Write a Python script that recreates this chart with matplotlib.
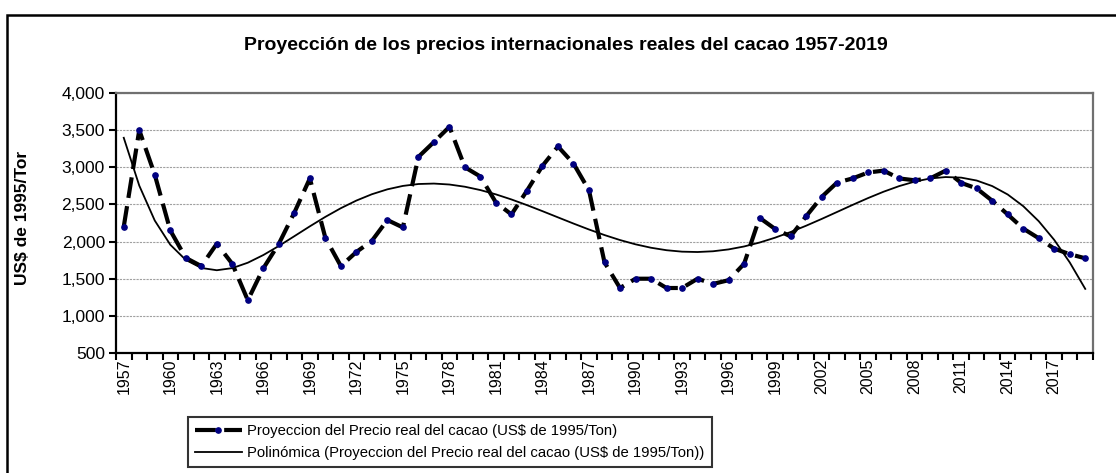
import numpy as np
import matplotlib
matplotlib.use("Agg")
import matplotlib.pyplot as plt
from matplotlib.patches import Rectangle

plt.rcParams['font.family'] = ['Liberation Sans', 'DejaVu Sans']

years = list(range(1957, 2020))
precio = [2200, 3500, 2900, 2150, 1780, 1670, 1970, 1700, 1210, 1640,
          1970, 2390, 2850, 2050, 1670, 1860, 2010, 2290, 2190, 3140,
          3340, 3545, 3000, 2875, 2525, 2365, 2685, 3020, 3280, 3050,
          2690, 1720, 1375, 1500, 1500, 1375, 1375, 1500, 1430, 1480,
          1700, 2320, 2170, 2070, 2340, 2600, 2795, 2850, 2930, 2955,
          2850, 2825, 2850, 2955, 2790, 2715, 2550, 2365, 2175, 2045,
          1905, 1830, 1775]
tick_years = list(range(1957, 2018, 3))

W, H = 1116, 473
fig = plt.figure(figsize=(W / 100, H / 100), dpi=100)
ax = fig.add_axes([116 / W, 1 - 353 / H, (1093 - 116) / W, (353 - 93) / H])

x = np.arange(len(years))
# linea de tendencia polinomica (como en Excel)
coef = np.polyfit(x + 1, precio, 6)
trend = np.polyval(coef, x + 1)

ax.plot(x, precio, color='black', lw=3, linestyle=(0, (5, 2)),
        marker='o', markersize=3.8, markerfacecolor='#000080', markeredgecolor='#000080',
        label='Proyeccion del Precio real del cacao (US$ de 1995/Ton)', zorder=3)
ax.plot(x, trend, color='black', lw=1.3,
        label='Polinómica (Proyeccion del Precio real del cacao (US$ de 1995/Ton))', zorder=2)

ax.set_xlim(-0.5, len(years) - 0.5)
ax.set_ylim(500, 4000)
ax.set_yticks(range(500, 4001, 500))
ax.set_yticklabels([f"{v:,}" for v in range(500, 4001, 500)], fontsize=12.5)
ax.yaxis.grid(True, color='#a0a0a0', linestyle=(0, (2, 1)), lw=0.8)
ax.set_axisbelow(True)

ax.set_xticks([years.index(y) for y in tick_years])
ax.set_xticklabels([str(y) for y in tick_years], rotation=90, fontsize=11.5)
ax.set_xticks(np.arange(-0.5, len(years)), minor=True)
ax.tick_params(axis='x', which='major', length=0, pad=4)
ax.tick_params(axis='x', which='minor', length=5, width=1.5, direction='out')
ax.tick_params(axis='y', length=5, width=1.5, direction='out', pad=3)

for s in ['left', 'bottom']:
    ax.spines[s].set_linewidth(1.6)
    ax.spines[s].set_color('black')
for s in ['top', 'right']:
    ax.spines[s].set_linewidth(1.6)
    ax.spines[s].set_color('#707070')

ax.set_ylabel('US$ de 1995/Tor', fontsize=12.5, fontweight='bold')
ax.yaxis.set_label_coords((30 - 116) / (1093 - 116), 0.52)

fig.text(566 / W, 1 - 46 / H, 'Proyección de los precios internacionales reales del cacao 1957-2019',
         ha='center', va='center', fontsize=14, fontweight='bold')

leg = fig.legend(loc='upper left', bbox_to_anchor=(188 / W, 1 - 417 / H), fontsize=10.7,
                 frameon=True, fancybox=False, borderaxespad=0, handlelength=3.1,
                 handletextpad=0.4, borderpad=0.5, labelspacing=0.5, numpoints=1)
leg.get_frame().set_edgecolor('black')
leg.get_frame().set_linewidth(1.5)

fig.add_artist(Rectangle((7 / W, -0.1), 1.2, 1.1 - 15 / H,
                         transform=fig.transFigure, fill=False, edgecolor='black', lw=1.8))

fig.savefig('out.png', dpi=100)
